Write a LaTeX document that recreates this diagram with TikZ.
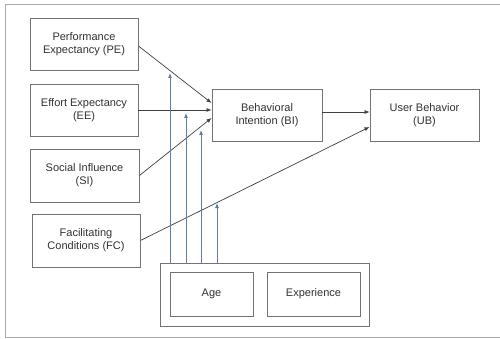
\documentclass[tikz,border=0pt]{standalone}
\usepackage{fontspec}
\setmainfont{Liberation Sans}
\usetikzlibrary{arrows.meta,calc}

\definecolor{boxline}{RGB}{115,115,115}
\definecolor{frameline}{RGB}{170,170,170}
\definecolor{txt}{RGB}{50,50,50}
\definecolor{modblue}{RGB}{95,125,165}

\tikzset{
  construct/.style={draw=boxline, line width=0.9pt, rectangle, align=center,
    text=txt, font=\fontsize{11}{13}\selectfont, inner sep=0pt},
  mainpath/.style={draw=black!75, line width=0.7pt, -{Latex[length=5pt,width=4pt]}},
  moderate/.style={draw=modblue, line width=0.8pt, -{Latex[length=5pt,width=4pt]}},
}

\begin{document}
\begin{tikzpicture}[x=1pt, y=-1pt]
\useasboundingbox (0,0) rectangle (500,339);
\fill[white] (0,0) rectangle (500,339);

% outer frame
\draw[frameline, line width=0.8pt] (500,4) -- (5,4) -- (5,337) -- (500,337);

% constructs
\node[construct, minimum width=108pt, minimum height=52pt] (PE) at (84,44) {Performance\\Expectancy (PE)};
\node[construct, minimum width=108pt, minimum height=52pt] (EE) at (84,110) {Effort Expectancy\\(EE)};
\node[construct, minimum width=109pt, minimum height=53pt] (SI) at (84.5,175.5) {Social Influence\\(SI)};
\node[construct, minimum width=108pt, minimum height=53pt] (FC) at (86,240.5) {Facilitating\\Conditions (FC)};
\node[construct, minimum width=110pt, minimum height=52pt] (BI) at (267,115) {Behavioral\\Intention (BI)};
\node[construct, minimum width=109pt, minimum height=52pt] (UB) at (424.5,115) {User Behavior\\(UB)};

% moderators
\node[construct, minimum width=209pt, minimum height=63pt] (MOD) at (264.5,294.5) {};
\node[construct, minimum width=83pt, minimum height=44pt] (AGE) at (211.5,294) {Age};
\node[construct, minimum width=93pt, minimum height=44pt] (EXP) at (313.5,294) {Experience};

% main paths
\draw[mainpath] ($(PE.east)+(0,2)$) -- ($(BI.west)+(0,-12)$);
\draw[mainpath] (EE.east) -- ($(BI.west)+(0,-5)$);
\draw[mainpath] (SI.east) -- ($(BI.west)+(0,3)$);
\draw[mainpath] (FC.east) -- ($(UB.west)+(0,12)$);
\draw[mainpath] ($(BI.east)+(0,-3)$) -- ($(UB.west)+(0,-3)$);

% moderating effects
\coordinate (m1) at (170,73);
\coordinate (m2) at (186,113);
\coordinate (m3) at (201,130);
\coordinate (m4) at (217,203);
\draw[moderate] (MOD.north -| m1) -- (m1);
\draw[moderate] (MOD.north -| m2) -- (m2);
\draw[moderate] (MOD.north -| m3) -- (m3);
\draw[moderate] (MOD.north -| m4) -- (m4);
\end{tikzpicture}
\end{document}
